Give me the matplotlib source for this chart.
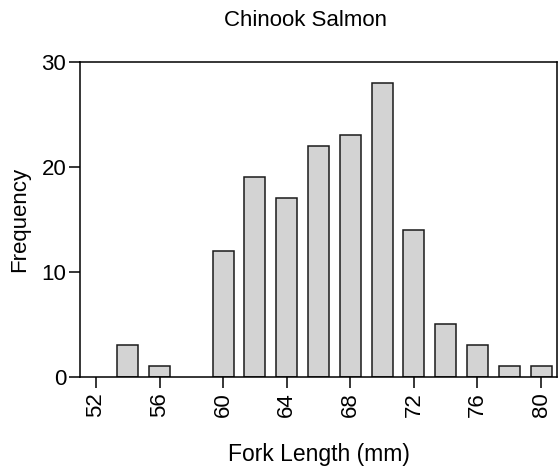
import matplotlib
matplotlib.use('Agg')
import matplotlib.pyplot as plt

lengths = [54, 56, 58, 60, 62, 64, 66, 68, 70, 72, 74, 76, 78, 80]
counts = [3, 1, 0, 12, 19, 17, 22, 23, 28, 14, 5, 3, 1, 1]
xticks = [52, 56, 60, 64, 68, 72, 76, 80]
yticks = [0, 10, 20, 30]

plt.rcParams['font.family'] = ['Liberation Sans', 'DejaVu Sans']

fig = plt.figure(figsize=(5.58, 4.71), dpi=100)
ax = fig.add_axes([0.1434, 0.1996, 0.8548, 0.6688])

# empty bins get no outline
xs = [x for x, c in zip(lengths, counts) if c > 0]
hs = [c for c in counts if c > 0]
ax.bar(xs, hs, width=1.33, color='#d3d3d3', edgecolor='#1a1a1a', linewidth=1.1)

ax.set_xlim(51, 81)
ax.set_ylim(0, 30)
ax.set_xticks(xticks)
ax.set_yticks(yticks)
ax.tick_params(axis='x', labelrotation=90, labelsize=16, length=8, width=1.1, direction='out', pad=3)
ax.tick_params(axis='y', labelsize=16, length=8, width=1.1, direction='out', pad=2)
for s in ax.spines.values():
    s.set_linewidth(1.1)

ax.set_xlabel('Fork Length (mm)', fontsize=16.5, labelpad=18.5)
ax.set_ylabel('Frequency', fontsize=16, labelpad=8)
fig.text(0.548, 0.957, 'Chinook Salmon', ha='center', va='center', fontsize=16)

fig.savefig('out.png', dpi=100)
